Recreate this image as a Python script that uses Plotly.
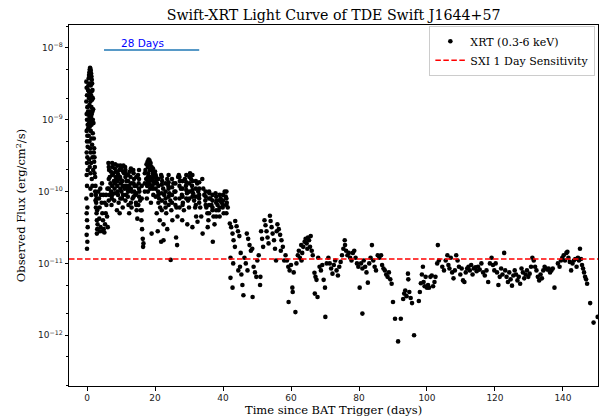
import math
import plotly.graph_objects as go

# ---------------- data ----------------
# (days since BAT trigger, observed flux erg/cm^2/s)
early = [
    (-0.2, 3.4e-9), (-0.1, 2.8e-9), (0.0, 2.2e-9), (-0.2, 1.8e-9), (0.1, 1.5e-9), (-0.1, 1.2e-9),
    (0.0, 1.0e-9), (0.2, 8.5e-10), (-0.1, 7e-10), (0.1, 6e-10), (0.0, 5e-10), (0.2, 4.2e-10),
    (-0.1, 3.5e-10), (0.1, 3e-10), (0.0, 2.5e-10), (0.2, 2e-10), (-0.1, 1.7e-10), (0.0, 1.2e-10),
    (-0.2, 8e-11), (0.1, 6e-11), (-0.1, 5e-11), (0.0, 4e-11), (0.2, 3.2e-11), (-0.1, 2.5e-11),
    (0.1, 2e-11), (0.0, 1.6e-11), (0.3, 2.6e-9), (0.3, 1.3e-9), (0.3, 7.5e-10),
    (0.4, 3.0e-9), (0.5, 3.8e-9), (0.6, 4.2e-9), (0.7, 4.6e-9), (0.8, 5.0e-9), (0.9, 5.3e-9),
    (1.0, 5.1e-9), (1.1, 4.8e-9), (1.2, 4.4e-9), (1.3, 4.0e-9), (1.4, 3.6e-9), (1.5, 3.2e-9),
    (1.6, 2.6e-9), (1.7, 2.0e-9), (0.5, 2.5e-9), (0.6, 2.0e-9), (0.7, 1.6e-9), (0.8, 3.2e-9),
    (0.9, 2.4e-9), (1.0, 1.8e-9), (1.1, 3.0e-9), (1.2, 2.2e-9), (1.3, 1.5e-9), (1.4, 2.5e-9),
    (1.5, 1.9e-9), (0.5, 1.2e-9), (0.6, 9e-10), (0.7, 1.1e-9), (0.8, 8e-10), (0.9, 1.3e-9),
    (1.0, 1.0e-9), (1.1, 7e-10), (1.2, 1.1e-9), (1.3, 8.5e-10), (1.4, 1.2e-9), (1.5, 9e-10),
    (1.6, 1.3e-9), (1.7, 1.0e-9), (1.8, 1.4e-9), (0.5, 6e-10), (0.7, 5e-10), (0.9, 4e-10),
    (1.1, 3.5e-10), (1.3, 5.5e-10), (1.5, 4.5e-10), (1.7, 6.5e-10), (0.6, 2.8e-10), (0.8, 2.2e-10),
    (1.0, 1.8e-10), (1.2, 2.5e-10), (1.4, 1.5e-10), (1.6, 3e-10), (1.8, 2e-10), (1.0, 1.1e-10),
    (1.3, 9e-11), (1.6, 1.2e-10),
    (1.9, 9e-10), (2.0, 5.5e-10), (2.1, 4e-10), (2.2, 3e-10), (2.3, 2.2e-10), (2.4, 1.6e-10),
    (2.5, 1.2e-10), (2.6, 9e-11), (2.7, 7e-11), (2.8, 5e-11), (2.9, 4e-11), (3.0, 3e-11),
    (2.0, 3.5e-10), (2.2, 1.8e-10), (2.4, 1e-10), (2.6, 6e-11), (2.8, 8e-11), (3.0, 5.5e-11),
    (3.1, 3.5e-11), (2.1, 2.6e-10), (2.5, 7.5e-11), (2.9, 2.6e-11),
]

plateau = [
    (3.3, 1.0e-10), (3.5, 8e-11), (3.7, 6e-11), (3.9, 1.1e-10), (4.1, 9e-11), (4.3, 7e-11),
    (4.5, 5e-11), (4.7, 4e-11), (4.9, 3e-11), (5.1, 2.7e-11), (5.3, 3.5e-11), (5.5, 5e-11),
    (5.7, 6.5e-11), (5.9, 4.5e-11), (6.1, 3.2e-11), (3.6, 4.2e-11), (4.0, 3.2e-11), (4.4, 1.3e-10),
    (4.8, 9e-11), (5.2, 7e-11), (5.6, 9e-11), (6.0, 1.1e-10), (3.8, 2.8e-11), (4.6, 2.8e-11),
    (6.3, 2.5e-10), (6.5, 2.0e-10), (6.7, 1.6e-10), (6.9, 1.3e-10), (7.1, 1.0e-10), (7.3, 8e-11),
    (7.5, 2.2e-10), (7.7, 1.8e-10), (7.9, 1.4e-10), (8.1, 1.1e-10), (8.3, 2.4e-10), (8.5, 1.9e-10),
    (8.7, 1.5e-10), (8.9, 1.2e-10), (9.1, 9e-11), (9.3, 7e-11), (9.5, 2.0e-10), (9.7, 1.6e-10),
    (9.9, 1.3e-10), (10.1, 1.0e-10), (10.3, 8e-11), (10.5, 6e-11), (10.7, 2.3e-10), (10.9, 1.8e-10),
    (6.6, 9e-11), (7.2, 6.5e-11), (8.0, 7.5e-11), (8.8, 5.5e-11), (9.6, 5e-11), (10.4, 1.4e-10),
    (11.0, 1.1e-10), (7.0, 1.9e-10), (8.4, 1.6e-10), (9.2, 1.7e-10), (10.0, 2.1e-10),
    (11.2, 2.2e-10), (11.4, 1.8e-10), (11.6, 1.4e-10), (11.8, 1.1e-10), (12.0, 8.5e-11),
    (12.2, 6.5e-11), (12.4, 5e-11), (12.6, 1.9e-10), (12.8, 1.6e-10), (13.0, 1.3e-10),
    (13.2, 1.0e-10), (13.4, 8e-11), (13.6, 2.0e-10), (13.8, 1.5e-10), (14.0, 1.2e-10),
    (14.2, 9e-11), (14.4, 7e-11), (14.6, 5.5e-11), (14.8, 4.2e-11), (15.0, 1.7e-10),
    (15.2, 1.3e-10), (15.4, 1e-10), (15.6, 7.5e-11), (15.8, 5.5e-11), (16.0, 4e-11),
    (16.2, 3e-11), (16.4, 2.2e-11), (16.5, 1.7e-11), (16.6, 1.9e-11), (11.5, 9e-11),
    (12.3, 1.2e-10), (13.1, 6e-11), (13.9, 1.0e-10), (15.1, 6.5e-11),
    (17.2, 2.0e-10), (17.5, 2.4e-10), (17.8, 2.6e-10), (18.1, 2.8e-10), (18.4, 2.7e-10),
    (18.7, 2.5e-10), (19.0, 2.2e-10), (19.3, 1.9e-10), (19.6, 1.6e-10), (17.4, 1.5e-10),
    (17.7, 1.2e-10), (18.0, 1.8e-10), (18.3, 1.4e-10), (18.6, 1.1e-10), (18.9, 1.5e-10),
    (19.2, 1.2e-10), (19.5, 9e-11), (19.8, 1.3e-10), (17.6, 8e-11), (18.8, 7e-11),
    (19.0, 2.6e-11), (20.8, 2.8e-11),
    (20.0, 1.9e-10), (20.3, 1.6e-10), (20.6, 1.3e-10), (20.9, 1.0e-10), (21.2, 8e-11),
    (21.5, 6e-11), (21.8, 1.7e-10), (22.1, 1.4e-10), (22.4, 1.1e-10), (22.7, 9e-11),
    (23.0, 7e-11), (23.3, 5e-11), (23.6, 1.5e-10), (23.9, 1.2e-10), (24.2, 9.5e-11),
    (24.5, 7.5e-11), (24.8, 5.5e-11), (25.1, 4e-11), (25.4, 1.3e-10), (25.7, 1.0e-10),
    (26.0, 8e-11), (26.3, 6e-11), (26.6, 4.5e-11), (20.5, 5e-11), (21.4, 4e-11),
    (22.5, 3.5e-11), (23.6, 3e-11), (24.6, 1.12e-11), (26.5, 1.8e-11), (26.2, 2.3e-11),
    (26.8, 1.6e-10), (21.8, 2.0e-11), (22.5, 2.1e-11),
    (27.0, 1.7e-10), (27.3, 1.4e-10), (27.6, 1.1e-10), (27.9, 9e-11), (28.2, 7e-11),
    (28.5, 5.5e-11), (28.8, 1.5e-10), (29.1, 1.2e-10), (29.4, 9.5e-11), (29.7, 7.5e-11),
    (30.0, 6e-11), (30.3, 1.8e-10), (30.6, 1.5e-10), (30.9, 1.2e-10), (31.2, 9.5e-11),
    (31.5, 7.5e-11), (31.8, 6e-11), (32.1, 4.5e-11), (32.4, 1.3e-10), (32.7, 1.0e-10),
    (33.0, 8e-11), (33.3, 6e-11), (33.6, 4.5e-11), (28.0, 4e-11), (29.5, 3.5e-11),
    (31.0, 3.2e-11), (32.5, 3.8e-11), (33.9, 1.5e-10),
    (34.2, 1.1e-10), (34.5, 9e-11), (34.8, 7.5e-11), (35.1, 6e-11), (35.4, 5e-11),
    (35.7, 4e-11), (36.0, 9.5e-11), (36.3, 8e-11), (36.6, 6.5e-11), (36.9, 5.5e-11),
    (37.2, 4.5e-11), (37.5, 3.5e-11), (37.8, 9.5e-11), (38.1, 7.5e-11), (38.4, 6.5e-11),
    (38.7, 5.5e-11), (39.0, 4.5e-11), (39.3, 8e-11), (39.6, 7e-11), (39.9, 6e-11),
    (40.2, 5e-11), (40.5, 1.0e-10), (40.8, 8.5e-11), (41.1, 7e-11), (41.4, 6e-11),
    (34.0, 2.6e-11), (37.0, 2.0e-11), (35.5, 3.2e-11),
]

plateau_dense = [
    (6.4, 2.2e-10), (6.4, 1.5e-10), (6.4, 1.1e-10), (6.4, 7.5e-11),
    (7.4, 2.5e-10), (7.4, 1.7e-10), (7.4, 1.2e-10), (7.4, 9e-11),
    (8.2, 2.1e-10), (8.2, 1.3e-10), (8.2, 9.5e-11),
    (9.0, 2.3e-10), (9.0, 1.8e-10), (9.0, 1.4e-10), (9.0, 1.0e-10),
    (9.8, 2.3e-10), (9.8, 1.5e-10), (9.8, 1.1e-10), (9.8, 8e-11),
    (10.6, 1.9e-10), (10.6, 1.2e-10), (10.6, 9e-11),
    (11.3, 2.0e-10), (11.3, 1.6e-10), (11.3, 1.2e-10), (11.3, 7.5e-11),
    (12.1, 1.7e-10), (12.1, 1.4e-10), (12.1, 1.0e-10),
    (12.9, 2.1e-10), (12.9, 1.1e-10), (12.9, 7e-11),
    (13.7, 1.8e-10), (13.7, 1.3e-10), (13.7, 8.5e-11),
    (14.5, 1.6e-10), (14.5, 1.2e-10), (14.5, 9.5e-11), (14.5, 6.5e-11),
    (15.3, 2.0e-10), (15.3, 1.5e-10), (15.3, 1.1e-10), (15.3, 8.5e-11),
    (16.1, 1.2e-10), (16.1, 8e-11), (16.1, 5.5e-11),
    (17.0, 1.8e-10), (17.0, 1.3e-10), (17.0, 1.0e-10),
    (17.9, 2.2e-10), (17.9, 1.6e-10), (17.9, 1.35e-10), (17.9, 1.0e-10),
    (18.5, 2.4e-10), (18.5, 2.0e-10), (18.5, 1.6e-10), (18.5, 1.25e-10),
    (19.4, 2.1e-10), (19.4, 1.75e-10), (19.4, 1.4e-10), (19.4, 1.1e-10),
    (20.2, 1.7e-10), (20.2, 1.4e-10), (20.2, 1.1e-10), (20.2, 8.5e-11),
    (21.0, 1.5e-10), (21.0, 1.2e-10), (21.0, 9e-11), (21.0, 7e-11),
    (22.0, 1.6e-10), (22.0, 1.25e-10), (22.0, 9.5e-11), (22.0, 7.5e-11), (22.0, 5.5e-11),
    (23.1, 1.3e-10), (23.1, 1.0e-10), (23.1, 8e-11), (23.1, 6e-11),
    (24.0, 1.7e-10), (24.0, 1.35e-10), (24.0, 1.1e-10), (24.0, 8.5e-11), (24.0, 6.5e-11),
    (25.0, 1.5e-10), (25.0, 1.15e-10), (25.0, 9e-11), (25.0, 7e-11),
    (26.0, 1.3e-10), (26.0, 1.0e-10), (26.0, 6.5e-11),
    (27.2, 1.6e-10), (27.2, 1.2e-10), (27.2, 8e-11), (27.2, 6e-11),
    (28.1, 1.4e-10), (28.1, 1.1e-10), (28.1, 8.5e-11), (28.1, 6.5e-11),
    (29.2, 1.7e-10), (29.2, 1.35e-10), (29.2, 1.05e-10), (29.2, 8e-11),
    (30.1, 1.6e-10), (30.1, 1.3e-10), (30.1, 1.0e-10), (30.1, 8e-11),
    (31.0, 1.7e-10), (31.0, 1.4e-10), (31.0, 1.05e-10), (31.0, 8.5e-11),
    (32.0, 1.4e-10), (32.0, 1.1e-10), (32.0, 8.5e-11), (32.0, 6.5e-11),
    (33.0, 1.35e-10), (33.0, 1.1e-10), (33.0, 9e-11), (33.0, 7e-11),
    (34.9, 1.0e-10), (34.9, 8.5e-11), (34.9, 6.5e-11),
    (35.9, 1.0e-10), (35.9, 8e-11), (35.9, 6.5e-11), (35.9, 5e-11),
    (36.9, 9e-11), (36.9, 7.5e-11), (36.9, 6e-11),
    (38.0, 8.5e-11), (38.0, 7e-11), (38.0, 5.5e-11), (38.0, 4.5e-11),
    (39.0, 9e-11), (39.0, 7.5e-11), (39.0, 6e-11),
    (40.0, 9e-11), (40.0, 7.5e-11), (40.0, 6.5e-11),
    (41.0, 1.0e-10), (41.0, 8e-11), (41.0, 6.5e-11), (41.0, 5e-11),
]

late = [
    (42.0, 3.6e-11), (42.4, 3.2e-11), (42.8, 2.6e-11), (43.1, 2.1e-11), (43.5, 1.7e-11),
    (42.2, 1.2e-11), (43.0, 1.0e-11), (43.6, 3.9e-11), (44.0, 3.3e-11), (44.4, 2.8e-11),
    (44.8, 2.4e-11), (42.2, 6.3e-12), (42.8, 4.6e-12), (44.5, 8e-12), (45.0, 9e-12),
    (45.4, 7e-12), (45.7, 5e-12), (46.0, 3.6e-12), (46.3, 1.2e-11), (46.7, 1.0e-11),
    (47.0, 2.6e-11), (47.4, 2.2e-11), (47.8, 1.8e-11), (48.2, 1.5e-11), (48.6, 1.6e-11),
    (48.7, 3.4e-12), (49.0, 9e-12), (49.4, 7.5e-12), (49.8, 6.5e-12), (50.1, 1.1e-11),
    (50.5, 1.3e-11), (50.9, 5e-12), (45.2, 1.4e-11), (47.2, 8e-12),
    (51.0, 6.5e-12), (51.2, 2.8e-11), (51.5, 2.2e-11), (51.8, 1.7e-11), (52.2, 4.0e-11),
    (52.5, 3.4e-11), (52.8, 2.8e-11), (53.1, 2.3e-11), (53.4, 1.9e-11), (53.8, 4.6e-11),
    (54.0, 3.9e-11), (54.3, 3.2e-11), (54.6, 2.6e-11), (55.0, 2.1e-11), (55.3, 1.6e-11),
    (55.6, 1.1e-11), (56.0, 3.5e-11), (56.4, 3.0e-11), (56.8, 2.5e-11), (57.2, 2.1e-11),
    (57.6, 1.7e-11), (58.0, 1.1e-11), (58.4, 1.3e-11), (55.8, 2.8e-11), (57.0, 1.5e-11),
    (58.8, 1.1e-11), (59.2, 9e-12), (59.3, 2.9e-12), (59.6, 8e-12), (60.0, 9.5e-12),
    (60.4, 4.6e-12), (60.5, 4.0e-12), (60.8, 7.5e-12), (61.3, 2.1e-12), (61.6, 1.0e-11),
    (62.0, 1.3e-11),
    (62.3, 1.5e-11), (62.6, 1.2e-11), (63.0, 1.8e-11), (63.3, 1.4e-11), (63.6, 1.7e-11),
    (64.0, 2.0e-11), (64.3, 2.2e-11), (64.6, 1.9e-11), (65.0, 2.3e-11), (65.3, 2.1e-11),
    (65.8, 2.4e-11), (65.6, 1.7e-11), (66.1, 1.5e-11), (66.4, 1.3e-11), (64.8, 1.6e-11),
    (63.1, 1.1e-11),
    (66.9, 7.4e-12), (67.2, 6.5e-12), (67.5, 5.9e-12), (67.0, 3.8e-12), (67.8, 3.4e-12),
    (68.0, 1.2e-11), (68.4, 9e-12), (68.8, 8e-12), (69.2, 9.5e-12), (69.6, 5.9e-12),
    (70.0, 4.6e-12), (70.1, 1.8e-12), (70.5, 1.0e-11),
    (71.0, 1.2e-11), (71.4, 1.0e-11), (71.8, 8.5e-12), (72.2, 7.2e-12), (72.6, 9.5e-12),
    (73.0, 1.1e-11), (73.4, 8e-12), (73.8, 6.8e-12), (74.2, 9e-12), (74.6, 1.05e-11),
    (75.0, 1.3e-11), (75.4, 1.6e-11), (75.8, 2.1e-11), (75.9, 1.8e-11), (76.2, 1.5e-11),
    (76.6, 1.3e-11), (77.0, 1.4e-11), (77.4, 1.2e-11), (77.8, 1.1e-11), (78.2, 1.4e-11),
    (78.6, 1.5e-11), (79.0, 1.2e-11), (79.4, 1.0e-11), (79.8, 9e-12), (80.2, 4.6e-12),
    (81.0, 2.0e-12),
    (80.6, 1.0e-11), (81.0, 8.5e-12), (81.4, 1.1e-11), (81.8, 9e-12), (82.2, 7.5e-12),
    (82.6, 5.4e-12), (83.0, 1.0e-11), (83.4, 1.2e-11), (83.8, 1.8e-11), (84.2, 1.1e-11),
    (84.6, 9e-12), (85.0, 8e-12), (85.5, 1.3e-11), (86.0, 1.2e-11), (86.5, 1.3e-11),
    (86.8, 9.5e-12), (87.2, 8.5e-12), (87.6, 8e-12), (88.0, 7e-12), (88.4, 6.5e-12),
    (88.8, 7.5e-12), (89.2, 6e-12), (89.6, 5.2e-12), (90.0, 2.9e-12),
    (90.6, 1.7e-12), (91.5, 8.2e-13), (92.3, 1.7e-12), (93.0, 3.2e-12), (93.3, 3.8e-12),
    (93.6, 4.2e-12), (94.0, 3.5e-12), (94.4, 7.2e-12), (94.5, 6e-12), (94.8, 4e-12),
    (95.2, 3.3e-12), (95.6, 2.8e-12), (96.2, 1.0e-12),
    (97.6, 3.0e-12), (97.9, 4.0e-12), (98.2, 5.3e-12), (98.5, 7e-12), (98.8, 9e-12),
    (99.0, 5.5e-12), (99.3, 4.8e-12), (99.6, 6.5e-12), (100.0, 4.6e-12), (100.3, 5e-12),
    (100.6, 4.6e-12), (101.0, 6.5e-12), (101.4, 6.8e-12), (101.8, 4.8e-12), (102.2, 5.5e-12),
    (102.5, 6.5e-12), (103.0, 1.0e-11), (103.2, 1.8e-11), (103.5, 1.1e-11),
    (104.5, 9e-12), (105.0, 8e-12), (105.5, 1.1e-11), (106.0, 1.3e-11), (106.3, 9.5e-12),
    (106.6, 8.5e-12), (107.0, 1.2e-11), (107.4, 7.5e-12), (107.8, 6.2e-12), (108.2, 8e-12),
    (108.6, 1.3e-11), (109.0, 1.1e-11), (109.4, 9e-12), (109.8, 7e-12), (110.2, 8.5e-12),
    (110.6, 5.8e-12), (111.0, 5.5e-12), (111.4, 7.5e-12), (111.8, 8.5e-12), (112.2, 9e-12),
    (112.6, 8e-12), (113.0, 9.5e-12), (113.4, 7e-12), (113.8, 8.5e-12), (114.2, 8.8e-12),
    (114.6, 7.8e-12), (115.0, 9e-12), (115.5, 8.2e-12), (116.0, 1.0e-11), (116.5, 7.5e-12),
    (117.0, 6.8e-12), (117.5, 8e-12), (118.0, 5.5e-12),
    (118.5, 1.0e-11), (119.0, 1.2e-11), (119.4, 9.5e-12), (119.8, 8e-12), (120.2, 1.0e-11),
    (120.6, 7.5e-12), (121.0, 5e-12), (121.4, 6.5e-12), (121.8, 8.5e-12), (122.2, 7e-12),
    (122.7, 1.4e-11), (123.0, 8e-12), (123.4, 6.5e-12), (123.8, 5.5e-12), (124.2, 7.5e-12),
    (124.6, 6e-12), (125.0, 4.9e-12), (125.4, 6.8e-12), (125.8, 8e-12), (126.2, 7e-12),
    (126.6, 5.8e-12), (127.0, 6.5e-12), (127.4, 5.2e-12), (127.8, 8.5e-12), (128.2, 7.5e-12),
    (128.6, 6.2e-12), (129.0, 7e-12), (129.4, 8e-12), (129.8, 6.5e-12), (130.2, 7.2e-12),
    (130.6, 9e-12),
    (131.0, 1.2e-11), (131.4, 1.1e-11), (131.8, 9e-12), (132.2, 8e-12), (132.6, 6.5e-12),
    (133.0, 5.8e-12), (133.4, 7e-12), (133.8, 6.2e-12), (134.2, 8e-12), (134.6, 9e-12),
    (135.0, 8.5e-12), (135.4, 8.2e-12), (135.8, 8.5e-12), (136.2, 7.5e-12), (136.6, 8e-12),
    (137.0, 8.5e-12), (137.5, 4.6e-12),
    (138.5, 1.0e-11), (139.0, 9e-12), (139.4, 1.1e-11), (139.8, 1.2e-11), (140.2, 1.3e-11),
    (140.6, 1.1e-11), (141.0, 1.4e-11), (141.3, 1.45e-11), (141.6, 1.2e-11), (142.0, 1.05e-11),
    (142.4, 8e-12), (142.8, 1.0e-11), (143.2, 1.1e-11), (143.6, 1.15e-11), (144.0, 9e-12),
    (144.4, 1.2e-11), (144.7, 1.1e-11), (145.0, 1.6e-11), (145.3, 1.15e-11),
    (145.6, 9.5e-12), (145.9, 8.5e-12), (146.2, 7.5e-12), (146.5, 6.5e-12), (146.8, 6e-12),
    (147.1, 5.2e-12), (148.0, 2.8e-12), (149.0, 1.5e-12), (150.2, 1.8e-12),
]

SXI_SENSITIVITY = 1.15e-11        # SXI 1-day sensitivity level
SCALE_BAR_START = 5.0             # "28 Days" scale bar
SCALE_BAR_DAYS = 28.0
SCALE_BAR_FLUX = 9.4e-9
X_RANGE = [-5.3, 150.3]
Y_DECADES = [-12.707, -7.68]
Y_TICK_EXP = [-12, -11, -10, -9, -8]
X_TICKS = [0, 20, 40, 60, 80, 100, 120, 140]

# ---------------- figure ----------------
points = early + plateau + plateau_dense + late
t = [p[0] for p in points]
flux = [p[1] for p in points]

SERIF = "DejaVu Serif"
SANS = "DejaVu Sans"

fig = go.Figure()
fig.add_trace(go.Scatter(
    x=t, y=flux, mode="markers", name="XRT (0.3-6 keV)",
    marker=dict(color="black", size=4.6, line=dict(width=0)),
))
fig.add_trace(go.Scatter(
    x=X_RANGE, y=[SXI_SENSITIVITY, SXI_SENSITIVITY], mode="lines",
    name="SXI 1 Day Sensitivity",
    line=dict(color="red", dash="5.5px,2.5px", width=1.5),
))
fig.add_trace(go.Scatter(
    x=[SCALE_BAR_START, SCALE_BAR_START + SCALE_BAR_DAYS],
    y=[SCALE_BAR_FLUX, SCALE_BAR_FLUX], mode="lines", showlegend=False,
    line=dict(color="#1f77b4", width=1.5), hoverinfo="skip",
))
fig.add_annotation(
    x=SCALE_BAR_START + SCALE_BAR_DAYS * 0.4, y=math.log10(SCALE_BAR_FLUX),
    xref="x", yref="y",
    text="28 Days", showarrow=False, yanchor="bottom", yshift=-1,
    font=dict(family=SANS, size=10.5, color="blue"),
)
# x-axis title placed as an annotation just below the tick labels
fig.add_annotation(
    x=0.5, y=0, xref="paper", yref="paper", xanchor="center", yanchor="top",
    yshift=-16, borderpad=0, showarrow=False,
    text="Time since BAT Trigger (days)",
    font=dict(family=SERIF, size=11.5, color="black"),
)

fig.update_layout(
    width=599, height=416,
    margin=dict(l=69, r=1, t=25, b=30, autoexpand=False),
    paper_bgcolor="white", plot_bgcolor="white",
    title=dict(text="Swift-XRT Light Curve of TDE Swift J1644+57",
               font=dict(family=SERIF, size=14.2, color="black"),
               x=0.5569, xanchor="center", y=0.964, yanchor="middle"),
    legend=dict(x=0.995, y=0.998, xanchor="right", yanchor="top",
                bgcolor="rgba(255,255,255,0.8)", bordercolor="#cccccc", borderwidth=1,
                font=dict(family=SERIF, size=11, color="black"),
                itemwidth=30, tracegroupgap=2),
    showlegend=True,
)
fig.update_xaxes(
    range=X_RANGE, tickvals=X_TICKS, ticks="outside", ticklen=3.5, tickcolor="black",
    showline=True, linecolor="black", linewidth=1, mirror=True, showgrid=False, zeroline=False,
    automargin=False,
    tickfont=dict(family=SANS, size=9, color="#222"),
)
fig.update_yaxes(
    type="log", range=Y_DECADES,
    tickvals=[10.0 ** e for e in Y_TICK_EXP],
    ticktext=["10<sup>\u2212%d</sup>" % (-e) for e in Y_TICK_EXP],
    ticks="outside", ticklen=3.5, tickcolor="black",
    minor=dict(ticks="outside", ticklen=2, tickcolor="black", showgrid=False),
    showline=True, linecolor="black", linewidth=1, mirror=True, showgrid=False, zeroline=False,
    automargin=False,
    tickfont=dict(family=SANS, size=9, color="#222"),
    title=dict(text="Observed Flux (erg/cm<sup>2</sup>/s)", standoff=9,
               font=dict(family=SERIF, size=11.5, color="black")),
)

fig.write_html(
    "out.html",
    config={"displayModeBar": False},
    post_script="document.body.style.margin='0';document.body.style.padding='0';",
)
